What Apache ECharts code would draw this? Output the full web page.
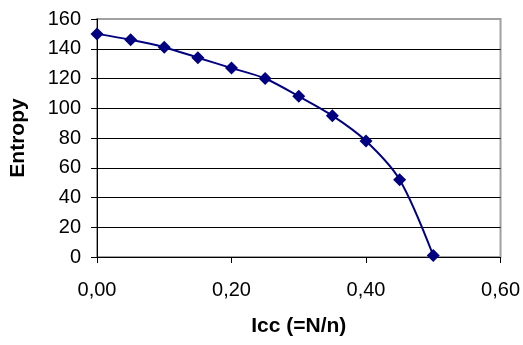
<!DOCTYPE html>
<html>
<head>
<meta charset="utf-8">
<script src="https://cdn.jsdelivr.net/npm/echarts@6/dist/echarts.min.js"></script>
<style>
html,body{margin:0;padding:0;background:#fff;}
#main{width:523px;height:345px;}
</style>
</head>
<body>
<div id="main"></div>
<script>
// data
var icc = [0.00, 0.05, 0.10, 0.15, 0.20, 0.25, 0.30, 0.35, 0.40, 0.45, 0.50];
var entropy = [150, 146, 141, 134, 127, 120, 108, 95, 78, 52, 1];
var xTicks = [0, 0.2, 0.4, 0.6];
var yTicks = [0, 20, 40, 60, 80, 100, 120, 140, 160];

var points = [];
for (var i = 0; i < icc.length; i++) {
	points.push([icc[i], entropy[i]]);
}

// black grid lines, the top one grey like the frame
var splitColors = [];
for (var j = 0; j < yTicks.length; j++) {
	splitColors.push(j == yTicks.length - 1 ? '#a0a0a0' : '#000');
}

var font = 'Liberation Sans, Arial, sans-serif';
var myChart = echarts.init(document.getElementById('main'));
var option = {
	animation: false,
	grid: {
		left: 97, right: 22, top: 19, bottom: 88,
		show: true,
		borderColor: '#a0a0a0',
		borderWidth: 2
	},
	xAxis: {
		type: 'value',
		min: xTicks[0],
		max: xTicks[xTicks.length - 1],
		interval: 0.2,
		name: 'Icc (=N/n)',
		nameLocation: 'middle',
		nameGap: 59,
		nameTextStyle: {fontFamily: font, fontSize: 21, fontWeight: 'bold', color: '#000'},
		axisLine: {lineStyle: {color: '#000', width: 1}},
		axisTick: {show: true, inside: false, length: 6, lineStyle: {color: '#000'}},
		axisLabel: {
			fontFamily: font, fontSize: 20, color: '#000', margin: 23,
			formatter: function (v) { return v.toFixed(2).replace('.', ','); }
		},
		splitLine: {show: false}
	},
	yAxis: {
		type: 'value',
		min: yTicks[0],
		max: yTicks[yTicks.length - 1],
		interval: 20,
		name: 'Entropy',
		nameLocation: 'middle',
		nameGap: 68,
		nameRotate: 90,
		nameTextStyle: {fontFamily: font, fontSize: 21, fontWeight: 'bold', color: '#000'},
		axisLine: {show: true, lineStyle: {color: '#000', width: 1}},
		axisTick: {show: true, inside: false, length: 6, lineStyle: {color: '#000'}},
		axisLabel: {fontFamily: font, fontSize: 20, color: '#000', margin: 16},
		splitLine: {show: true, lineStyle: {color: splitColors, width: 1}}
	},
	series: [{
		type: 'line',
		data: points,
		smooth: 0.3,
		symbol: 'diamond',
		symbolSize: 13,
		itemStyle: {color: '#000080'},
		lineStyle: {color: '#000080', width: 2}
	}]
};
myChart.setOption(option);
</script>
</body>
</html>
